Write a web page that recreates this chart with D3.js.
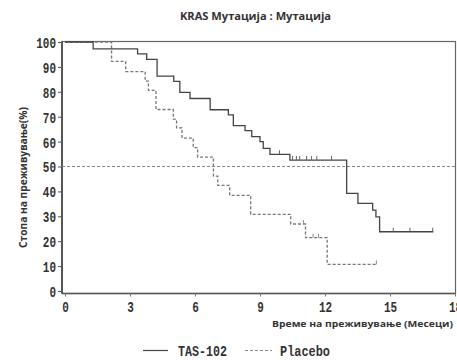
<!DOCTYPE html>
<html><head><meta charset="utf-8">
<script src="https://cdn.jsdelivr.net/npm/d3@7"></script>
<style>body{margin:0;background:#fff}svg{display:block}</style>
</head><body>
<svg id="c" width="457" height="360"></svg>
<script>
// ---- data ----
const title = "KRAS Мутација : Мутација";
const yLabel = "Стопа на преживување(%)";
const xLabel = "Време на преживување (Месеци)";
const seriesNames = ["TAS-102", "Placebo"];
const xTicks = [0, 3, 6, 9, 12, 15, 18];
const yTicks = [0, 10, 20, 30, 40, 50, 60, 70, 80, 90, 100];
// step points: [time (months), survival %]
const tasSteps = [[0,100],[1.3,97.2],[3.35,95.2],[3.77,93],[4.25,86.3],[5.02,84.2],[5.3,79.8],[5.77,77.3],[6.7,72.8],[7.54,70.7],[7.77,66.4],[8.31,64.4],[8.62,62],[9.0,60],[9.15,57.3],[9.46,54.9],[10.38,52.6],[13.0,39.2],[13.52,35.2],[14.2,32.5],[14.35,29.8],[14.52,23.8],[17.0,23.8]];
const tasCensor = [[9.9,54.9],[10.5,52.6],[10.68,52.6],[10.83,52.6],[11.15,52.6],[11.38,52.6],[11.62,52.6],[12.3,52.6],[15.15,23.8],[15.92,23.8],[16.97,23.8]];
const plaSteps = [[0,100],[2.15,92.2],[2.8,88.1],[3.7,84.3],[3.85,80.6],[4.2,72.9],[5.0,69],[5.15,65.5],[5.4,61.4],[5.92,57.6],[6.12,53.8],[6.85,46.1],[7.05,42.4],[7.6,38.4],[8.57,30.8],[10.42,26.9],[11.1,21.4],[12.1,10.7],[14.37,10.7]];
const plaCensor = [[11.0,26.9],[11.45,21.4],[11.7,21.4],[14.37,10.7]];
const refLine = 50;

// ---- chart ----
const svg = d3.select("#c");
const x = d3.scaleLinear().domain([0, 18]).range([65, 455]);
const y = d3.scaleLinear().domain([0, 100]).range([291, 42]);
const L = 62, T = 41.5, R = 455.5, B = 293.5;
const typeFont = "'Liberation Mono', monospace";

// frame
svg.append("rect").attr("x", L).attr("y", T).attr("width", R - L).attr("height", B - T)
  .attr("fill", "none").attr("stroke", "#666").attr("stroke-width", 1.2);
svg.append("line").attr("x1", L).attr("x2", L).attr("y1", T).attr("y2", B).attr("stroke", "#444").attr("stroke-width", 1.6);
svg.append("line").attr("x1", L).attr("x2", R).attr("y1", B).attr("y2", B).attr("stroke", "#555").attr("stroke-width", 1.4);

// y axis
const ya = svg.append("g").attr("transform", `translate(${L},0)`)
  .call(d3.axisLeft(y).tickValues(yTicks).tickSize(4).tickFormat(d3.format("d")));
ya.select(".domain").remove();
ya.selectAll(".tick line").attr("stroke", "#555");
ya.selectAll(".tick text").attr("x", -6).attr("dy", "0.36em")
  .attr("font-family", typeFont).attr("font-weight", "bold").attr("font-size", 15).attr("fill", "#333")
  .attr("textLength", d => String(d).length * 6.6).attr("lengthAdjust", "spacingAndGlyphs");

// x axis
const xa = svg.append("g").attr("transform", `translate(0,${B})`)
  .call(d3.axisBottom(x).tickValues(xTicks).tickSize(3).tickFormat(d3.format("d")));
xa.select(".domain").remove();
xa.selectAll(".tick line").attr("stroke", "#777");
xa.selectAll(".tick text").attr("y", 8).attr("dy", "0.71em")
  .attr("font-family", typeFont).attr("font-weight", "bold").attr("font-size", 15).attr("fill", "#333")
  .attr("textLength", d => String(d).length * 6.6).attr("lengthAdjust", "spacingAndGlyphs");

// reference line at 50%
svg.append("line").attr("x1", L).attr("x2", R).attr("y1", y(refLine)).attr("y2", y(refLine))
  .attr("stroke", "#888").attr("stroke-width", 1).attr("stroke-dasharray", "3,2");

const line = d3.line().x(d => x(d[0])).y(d => y(d[1])).curve(d3.curveStepAfter);

svg.append("path").datum(plaSteps).attr("d", line).attr("fill", "none")
  .attr("stroke", "#777").attr("stroke-width", 1.3).attr("stroke-dasharray", "3,2");
svg.append("path").datum(tasSteps).attr("d", line).attr("fill", "none")
  .attr("stroke", "#444").attr("stroke-width", 1.3);

svg.selectAll(".ct").data(tasCensor).enter().append("line")
  .attr("x1", d => x(d[0])).attr("x2", d => x(d[0]))
  .attr("y1", d => y(d[1]) - 4).attr("y2", d => y(d[1]))
  .attr("stroke", "#666").attr("stroke-width", 1);
svg.selectAll(".cp").data(plaCensor).enter().append("line")
  .attr("x1", d => x(d[0])).attr("x2", d => x(d[0]))
  .attr("y1", d => y(d[1]) - 4).attr("y2", d => y(d[1]))
  .attr("stroke", "#888").attr("stroke-width", 1);

// title
svg.append("text").attr("x", 180).attr("y", 20).text(title)
  .attr("font-family", "'Open Sans', sans-serif").attr("font-weight", "bold").attr("font-size", 10)
  .attr("fill", "#333").attr("textLength", 151).attr("lengthAdjust", "spacingAndGlyphs");

// y label
svg.append("text").attr("transform", "translate(27,248) rotate(-90)").text(yLabel)
  .attr("font-family", "'Open Sans', sans-serif").attr("font-weight", "bold").attr("font-size", 10)
  .attr("fill", "#333").attr("textLength", 141).attr("lengthAdjust", "spacingAndGlyphs");

// x label
svg.append("text").attr("x", 272).attr("y", 327).text(xLabel)
  .attr("font-family", "'Open Sans', sans-serif").attr("font-weight", "bold").attr("font-size", 9.5)
  .attr("fill", "#333").attr("textLength", 181).attr("lengthAdjust", "spacingAndGlyphs");

// legend
const leg = [
  {name: seriesNames[0], x1: 143, x2: 168, tx: 178, tw: 49, color: "#444", dash: null},
  {name: seriesNames[1], x1: 245, x2: 272, tx: 280, tw: 50, color: "#888", dash: "3,2"}
];
leg.forEach(l => {
  svg.append("line").attr("x1", l.x1).attr("x2", l.x2).attr("y1", 350.5).attr("y2", 350.5)
    .attr("stroke", l.color).attr("stroke-width", 1.2).attr("stroke-dasharray", l.dash);
  svg.append("text").attr("x", l.tx).attr("y", 356).text(l.name)
    .attr("font-family", typeFont).attr("font-weight", "bold").attr("font-size", 15).attr("fill", "#333")
    .attr("textLength", l.tw).attr("lengthAdjust", "spacingAndGlyphs");
});
</script>
</body></html>
